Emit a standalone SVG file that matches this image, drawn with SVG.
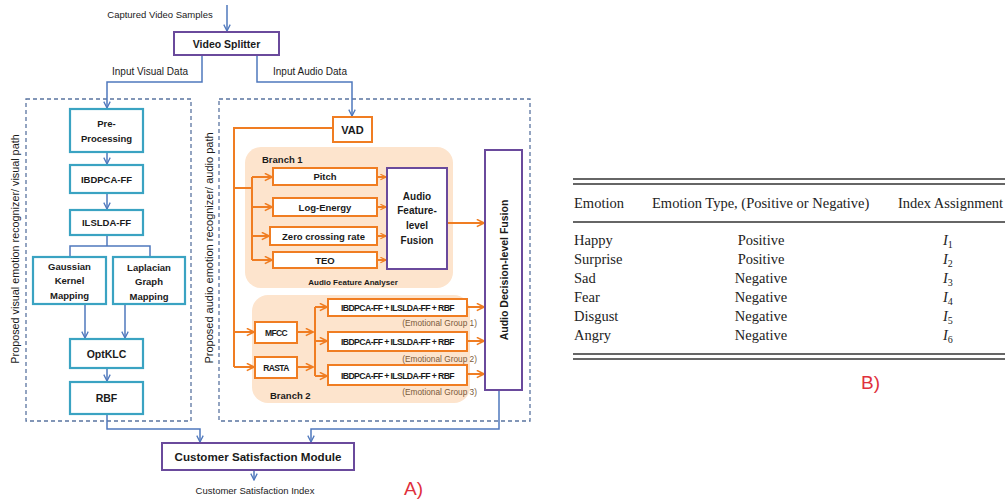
<svg xmlns="http://www.w3.org/2000/svg" width="1005" height="499" viewBox="0 0 1005 499">
<style>
.t{font-family:"Liberation Sans",Arial,sans-serif;fill:#1a1a1a}
.b{font-weight:bold}
.teal{fill:#fff;stroke:#3aa3c2;stroke-width:2.2}
.purp{fill:#fff;stroke:#6a4a9c;stroke-width:2}
.or{fill:#fff;stroke:#f07d22;stroke-width:2}
.tint{fill:#fde4cd;stroke:none}
.dash{fill:none;stroke:#5a74a0;stroke-width:1.3;stroke-dasharray:4 3}
.bl{fill:none;stroke:#4f78bd;stroke-width:1.5}
.ol{fill:none;stroke:#f07d22;stroke-width:2}
.s{font-family:"Liberation Serif","Times New Roman",serif;font-size:14.5px;fill:#222}
.rule{stroke:#333;stroke-width:1.3}
.red{font-family:"Liberation Sans",Arial,sans-serif;fill:#e0303c;font-size:19px}
.eg{font-family:"Liberation Sans",Arial,sans-serif;fill:#7a5a3a;font-size:8.3px}
</style>
<defs>
<marker id="ab" viewBox="0 0 10 10" refX="9" refY="5" markerWidth="8" markerHeight="8" markerUnits="userSpaceOnUse" orient="auto"><polyline points="1,1 9,5 1,9" fill="none" stroke="#4f78bd" stroke-width="1.6"/></marker>
<marker id="ao" viewBox="0 0 10 10" refX="9" refY="5" markerWidth="9" markerHeight="9" markerUnits="userSpaceOnUse" orient="auto"><polyline points="1,1 9,5 1,9" fill="none" stroke="#f07d22" stroke-width="1.8"/></marker>
<marker id="aos" viewBox="0 0 10 10" refX="9" refY="5" markerWidth="7" markerHeight="7" markerUnits="userSpaceOnUse" orient="auto"><polyline points="1,1 9,5 1,9" fill="none" stroke="#f07d22" stroke-width="1.6"/></marker>
</defs>

<!-- containers -->
<g id="visual-path">
<rect class="dash" x="26" y="99" width="165" height="322"/>
<text class="t" font-size="10.8" transform="translate(19,249) rotate(-90)" text-anchor="middle">Proposed visual emotion recognizer/ visual path</text>
</g>
<g id="audio-path">
<rect class="dash" x="219" y="99" width="311" height="322"/>
<text class="t" font-size="11" transform="translate(213,248) rotate(-90)" text-anchor="middle">Proposed audio emotion recognizer/ audio path</text>
</g>
<g id="branch1">
<rect class="tint" x="245" y="147" width="208" height="141" rx="16"/>
<text class="t b" font-size="9.5" x="262" y="163">Branch 1</text>
<text class="t b" font-size="8" x="353" y="285" text-anchor="middle">Audio Feature Analyser</text>
</g>
<g id="branch2">
<rect class="tint" x="252" y="295" width="218" height="108" rx="16"/>
<text class="t b" font-size="9.5" x="270" y="399">Branch 2</text>
</g>

<!-- connectors -->
<g id="connectors">
<line class="bl" x1="227" y1="5" x2="227" y2="31" marker-end="url(#ab)"/>
<polyline class="bl" points="202,55 202,82 107,82 107,108" marker-end="url(#ab)"/>
<polyline class="bl" points="257,55 257,82 352,82 352,116" marker-end="url(#ab)"/>
<line class="bl" x1="107" y1="152" x2="107" y2="164" marker-end="url(#ab)"/>
<line class="bl" x1="107" y1="193" x2="107" y2="209" marker-end="url(#ab)"/>
<polyline class="bl" points="107,235 107,246"/>
<polyline class="bl" points="70,256 70,246 150,246 150,256"/>
<line class="bl" x1="85" y1="304" x2="85" y2="338" marker-end="url(#ab)"/>
<line class="bl" x1="125" y1="304" x2="125" y2="338" marker-end="url(#ab)"/>
<line class="bl" x1="107" y1="368" x2="107" y2="381" marker-end="url(#ab)"/>
<polyline class="bl" points="107,414 107,429 200,429 200,442" marker-end="url(#ab)"/>
<polyline class="bl" points="499,390 499,429 311,429 311,442" marker-end="url(#ab)"/>
<line class="bl" x1="254" y1="470" x2="254" y2="480" marker-end="url(#ab)"/>

<polyline class="ol" points="333,128 234,128 234,367"/>
<polyline class="ol" points="234,188 252,188"/>
<polyline class="ol" points="252,177 252,260"/>
<line class="ol" x1="252" y1="177" x2="272" y2="177" marker-end="url(#ao)"/>
<line class="ol" x1="252" y1="207" x2="272" y2="207" marker-end="url(#ao)"/>
<line class="ol" x1="252" y1="236" x2="269" y2="236" marker-end="url(#ao)"/>
<line class="ol" x1="252" y1="260" x2="272" y2="260" marker-end="url(#ao)"/>
<line class="ol" stroke-width="1.4" x1="378" y1="177" x2="386" y2="177" marker-end="url(#aos)"/>
<line class="ol" stroke-width="1.4" x1="378" y1="207" x2="386" y2="207" marker-end="url(#aos)"/>
<line class="ol" stroke-width="1.4" x1="378" y1="236" x2="386" y2="236" marker-end="url(#aos)"/>
<line class="ol" stroke-width="1.4" x1="378" y1="260" x2="386" y2="260" marker-end="url(#aos)"/>
<line class="ol" x1="447" y1="223" x2="484" y2="223" marker-end="url(#ao)"/>
<line class="ol" x1="234" y1="332" x2="254" y2="332" marker-end="url(#ao)"/>
<line class="ol" x1="234" y1="367" x2="254" y2="367" marker-end="url(#ao)"/>
<line class="ol" x1="297" y1="332" x2="313" y2="332" marker-end="url(#ao)"/>
<line class="ol" x1="297" y1="367" x2="313" y2="367" marker-end="url(#ao)"/>
<polyline class="ol" points="315,307 315,376"/>
<line class="ol" x1="315" y1="307" x2="327" y2="307" marker-end="url(#ao)"/>
<line class="ol" x1="315" y1="341" x2="327" y2="341" marker-end="url(#ao)"/>
<line class="ol" x1="315" y1="376" x2="327" y2="376" marker-end="url(#ao)"/>
<line class="ol" x1="467" y1="307" x2="484" y2="307" marker-end="url(#ao)"/>
<line class="ol" x1="467" y1="341" x2="484" y2="341" marker-end="url(#ao)"/>
<line class="ol" x1="467" y1="374" x2="484" y2="374" marker-end="url(#ao)"/>
</g>

<text class="t" font-size="9.5" x="160" y="18" text-anchor="middle">Captured Video Samples</text>
<text class="t" font-size="10" x="150" y="75" text-anchor="middle">Input Visual Data</text>
<text class="t" font-size="10" x="310" y="75" text-anchor="middle">Input Audio Data</text>

<!-- nodes -->
<g id="video-splitter"><rect class="purp" x="174" y="32" width="105" height="23"/><text class="t b" font-size="10.5" x="226.5" y="47.5" text-anchor="middle">Video Splitter</text></g>
<g id="pre-processing"><rect class="teal" x="70" y="109" width="73" height="43"/><text class="t b" font-size="9.5" x="106.5" y="127" text-anchor="middle">Pre-</text><text class="t b" font-size="9.5" x="106.5" y="142" text-anchor="middle">Processing</text></g>
<g id="ibdpca"><rect class="teal" x="70" y="165" width="73" height="28"/><text class="t b" font-size="9.5" x="106.5" y="183" text-anchor="middle">IBDPCA-FF</text></g>
<g id="ilslda"><rect class="teal" x="70" y="210" width="73" height="25"/><text class="t b" font-size="9.5" x="106.5" y="226" text-anchor="middle">ILSLDA-FF</text></g>
<g id="gaussian"><rect class="teal" x="33" y="257" width="73" height="47"/><text class="t b" font-size="9.5" x="69.5" y="270" text-anchor="middle">Gaussian</text><text class="t b" font-size="9.5" x="69.5" y="284" text-anchor="middle">Kernel</text><text class="t b" font-size="9.5" x="69.5" y="299" text-anchor="middle">Mapping</text></g>
<g id="laplacian"><rect class="teal" x="113" y="257" width="72" height="47"/><text class="t b" font-size="9.5" x="149" y="271" text-anchor="middle">Laplacian</text><text class="t b" font-size="9.5" x="149" y="285" text-anchor="middle">Graph</text><text class="t b" font-size="9.5" x="149" y="300" text-anchor="middle">Mapping</text></g>
<g id="optklc"><rect class="teal" x="70" y="339" width="73" height="29"/><text class="t b" font-size="10.5" x="106.5" y="358" text-anchor="middle">OptKLC</text></g>
<g id="rbf"><rect class="teal" x="70" y="382" width="73" height="32"/><text class="t b" font-size="10.5" x="106.5" y="402" text-anchor="middle">RBF</text></g>

<g id="vad"><rect class="or" x="333" y="117" width="39" height="25"/><text class="t b" font-size="11" x="352.5" y="134" text-anchor="middle">VAD</text></g>
<g id="pitch"><rect class="or" x="273" y="168" width="104" height="17"/><text class="t b" font-size="9.5" x="325" y="180" text-anchor="middle">Pitch</text></g>
<g id="log-energy"><rect class="or" x="273" y="198" width="104" height="18"/><text class="t b" font-size="9.5" x="325" y="210.5" text-anchor="middle">Log-Energy</text></g>
<g id="zcr"><rect class="or" x="270" y="227" width="107" height="18"/><text class="t b" font-size="9.5" x="323.5" y="239.5" text-anchor="middle">Zero crossing rate</text></g>
<g id="teo"><rect class="or" x="273" y="252" width="104" height="16"/><text class="t b" font-size="9.5" x="325" y="263.5" text-anchor="middle">TEO</text></g>
<g id="afl-fusion"><rect class="purp" x="387" y="168" width="60" height="101"/><text class="t b" font-size="10" x="417" y="200" text-anchor="middle">Audio</text><text class="t b" font-size="10" x="417" y="214" text-anchor="middle">Feature-</text><text class="t b" font-size="10" x="417" y="229" text-anchor="middle">level</text><text class="t b" font-size="10" x="417" y="244" text-anchor="middle">Fusion</text></g>
<g id="decision-fusion"><rect class="purp" x="485" y="150" width="37" height="240"/><text class="t b" font-size="10.5" transform="translate(507.5,270) rotate(-90)" text-anchor="middle">Audio Decision-level Fusion</text></g>
<g id="mfcc"><rect class="or" x="255" y="322" width="42" height="21"/><text class="t b" font-size="8.5" x="276" y="335.5" text-anchor="middle" letter-spacing="-0.6">MFCC</text></g>
<g id="rasta"><rect class="or" x="255" y="357" width="42" height="21"/><text class="t b" font-size="8.5" x="276" y="370.5" text-anchor="middle" letter-spacing="-0.6">RASTA</text></g>
<g id="group1"><rect class="or" x="328" y="299" width="139" height="17"/><text class="t b" font-size="8.7" x="397.5" y="310.5" text-anchor="middle" letter-spacing="-0.6">IBDPCA-FF + ILSLDA-FF + RBF</text><text class="eg" x="477" y="325.5" text-anchor="end">(Emotional Group 1)</text></g>
<g id="group2"><rect class="or" x="328" y="332" width="139" height="19"/><text class="t b" font-size="8.7" x="397.5" y="344.5" text-anchor="middle" letter-spacing="-0.6">IBDPCA-FF + ILSLDA-FF + RBF</text><text class="eg" x="477" y="361.5" text-anchor="end">(Emotional Group 2)</text></g>
<g id="group3"><rect class="or" x="328" y="365" width="139" height="20"/><text class="t b" font-size="8.7" x="397.5" y="378.5" text-anchor="middle" letter-spacing="-0.6">IBDPCA-FF + ILSLDA-FF + RBF</text><text class="eg" x="477" y="395" text-anchor="end">(Emotional Group 3)</text></g>

<g id="csm"><rect class="purp" x="162" y="443" width="192" height="27"/><text class="t b" font-size="11.6" x="258" y="460.5" text-anchor="middle">Customer Satisfaction Module</text></g>
<text class="t" font-size="9.5" x="255" y="494" text-anchor="middle">Customer Satisfaction Index</text>
<text class="red" x="404" y="495">A)</text>

<!-- table B -->
<g id="table">
<line class="rule" x1="573" y1="179" x2="1005" y2="179"/>
<line class="rule" x1="573" y1="184" x2="1005" y2="184"/>
<text class="s" x="574" y="208">Emotion</text>
<text class="s" x="652" y="208">Emotion Type, (Positive or Negative)</text>
<text class="s" x="898" y="208">Index Assignment</text>
<line class="rule" x1="573" y1="222" x2="1005" y2="222"/>
<text class="s" x="574" y="245">Happy</text>
<text class="s" x="574" y="264">Surprise</text>
<text class="s" x="574" y="283">Sad</text>
<text class="s" x="574" y="302">Fear</text>
<text class="s" x="574" y="321">Disgust</text>
<text class="s" x="574" y="340">Angry</text>
<text class="s" x="761" y="245" text-anchor="middle">Positive</text>
<text class="s" x="761" y="264" text-anchor="middle">Positive</text>
<text class="s" x="761" y="283" text-anchor="middle">Negative</text>
<text class="s" x="761" y="302" text-anchor="middle">Negative</text>
<text class="s" x="761" y="321" text-anchor="middle">Negative</text>
<text class="s" x="761" y="340" text-anchor="middle">Negative</text>
<text class="s" x="943" y="245"><tspan font-style="italic">I</tspan><tspan font-size="10" dy="3">1</tspan></text>
<text class="s" x="943" y="264"><tspan font-style="italic">I</tspan><tspan font-size="10" dy="3">2</tspan></text>
<text class="s" x="943" y="283"><tspan font-style="italic">I</tspan><tspan font-size="10" dy="3">3</tspan></text>
<text class="s" x="943" y="302"><tspan font-style="italic">I</tspan><tspan font-size="10" dy="3">4</tspan></text>
<text class="s" x="943" y="321"><tspan font-style="italic">I</tspan><tspan font-size="10" dy="3">5</tspan></text>
<text class="s" x="943" y="340"><tspan font-style="italic">I</tspan><tspan font-size="10" dy="3">6</tspan></text>
<line class="rule" x1="573" y1="354" x2="1005" y2="354"/>
<line class="rule" x1="573" y1="359" x2="1005" y2="359"/>
<text class="red" x="861" y="389">B)</text>
</g>
</svg>
